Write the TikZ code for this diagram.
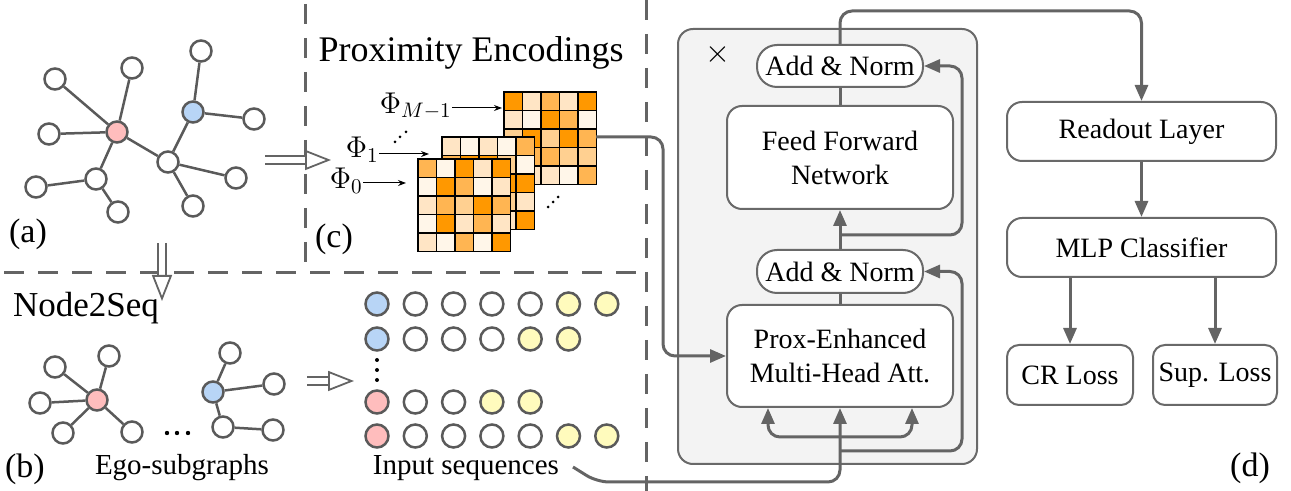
\documentclass[tikz,border=0pt]{standalone}
\usepackage{fix-cm}
\usepackage{fontspec}
\setmainfont{Liberation Serif}
\usetikzlibrary{arrows.meta,calc}

\definecolor{edgegray}{RGB}{90,90,90}
\definecolor{conngray}{RGB}{100,100,100}
\definecolor{boxgray}{RGB}{105,105,105}
\definecolor{panelgray}{RGB}{243,243,243}
\definecolor{pinkn}{RGB}{255,189,189}
\definecolor{bluen}{RGB}{184,213,246}
\definecolor{yellown}{RGB}{255,251,189}
\definecolor{od}{RGB}{255,152,0}
\definecolor{om}{RGB}{255,181,82}
\definecolor{op}{RGB}{255,208,145}
\definecolor{ol}{RGB}{255,229,197}
\definecolor{ow}{RGB}{255,246,233}

\begin{document}
\begin{tikzpicture}[x=0.5pt,y=0.5pt]
      \tikzstyle{every node}+=[inner sep=0pt]
      \tikzstyle{gnode}=[circle, draw=edgegray, line width=1.25pt, fill=white, minimum size=10.5pt]
      \tikzstyle{gedge}=[draw=edgegray, line width=1.25pt]
      \tikzstyle{snode}=[circle, draw=edgegray, line width=1.25pt, minimum size=11.5pt]
      \tikzstyle{blk}=[draw=boxgray, line width=1pt, fill=white, rounded corners=7.5pt, align=center, font=\fontsize{14}{17}\selectfont]
      \tikzstyle{conn}=[draw=conngray, line width=1.5pt, rounded corners=6pt]
      \tikzstyle{arr}=[-{Triangle[length=8pt,width=6.5pt]}]
      \tikzstyle{divider}=[draw=conngray, line width=1.5pt, dash pattern=on 10pt off 7pt]
      \tikzstyle{dblarrow}=[draw=conngray, line width=0.9pt, double=white, double distance=3pt, -{Triangle[open, fill=white, length=13pt, width=10pt, line width=0.9pt]}]
      \tikzstyle{lbl}=[font=\fontsize{17}{20}\selectfont]
      \tikzstyle{sublbl}=[font=\fontsize{14.5}{17}\selectfont, anchor=base]
      \tikzstyle{philbl}=[font=\fontsize{15}{17}\selectfont, anchor=east]
      \tikzstyle{phiarr}=[draw=black, line width=0.5pt, -{Stealth[length=4pt,width=3pt]}]
      \useasboundingbox (0,0) rectangle (1291,-491);
      % panel dividers
      \draw [divider] (305,-4) -- (305,-273);
      \draw [divider] (4,-273) -- (646,-273);
      \draw [divider] (646,0) -- (646,-491);
      % (a) input graph
      \node [gnode, fill=pinkn] (gp) at (117,-132) {};
      \node [gnode, fill=bluen] (gb) at (193,-112) {};
      \node [gnode] (n1) at (55,-79) {};
      \node [gnode] (n2) at (132,-68) {};
      \node [gnode] (n3) at (201,-51) {};
      \node [gnode] (n4) at (49,-134) {};
      \node [gnode] (n5) at (254,-119) {};
      \node [gnode] (gh) at (168,-162) {};
      \node [gnode] (gj) at (96,-179) {};
      \node [gnode] (n6) at (36,-187) {};
      \node [gnode] (n7) at (236,-178) {};
      \node [gnode] (n8) at (118,-212) {};
      \node [gnode] (n9) at (193,-206) {};
      \foreach \a/\b in {gp/n1, gp/n2, gp/n4, gp/gj, gp/gh, gb/n3, gb/n5, gb/gh, gh/n7, gh/n9, gj/n6, gj/n8}
        \draw [gedge] (\a) -- (\b);
      \node [lbl, anchor=base] (laba) at (28,-243) {(a)};
      % double arrows between panels
      \coordinate (ac1) at (265,-160);
      \coordinate (ac2) at (331,-160);
      \coordinate (ab1) at (162,-243);
      \coordinate (ab2) at (162,-301);
      \coordinate (bs1) at (307,-381);
      \coordinate (bs2) at (354,-381);
      \draw [dblarrow] (ac1) -- (ac2);
      \draw [dblarrow] (ab1) -- (ab2);
      \draw [dblarrow] (bs1) -- (bs2);
      % (c) proximity encodings
      \node [font=\fontsize{18}{21}\selectfont, anchor=base] (petitle) at (471,-62) {Proximity Encodings};
      \foreach \rowcols [count=\r] in {{od,ol,om,ol,od},{ol,ow,od,om,ow},{op,od,op,od,om},{od,om,om,op,op},{od,ol,ol,ow,om}}
        \foreach \c [count=\k] in \rowcols
          \filldraw [draw=black, line width=0.6pt, fill=\c] ({504+(\k-1)*18.5},{-92-(\r-1)*18.5}) rectangle ++(18.5,-18.5);
      \foreach \rowcols [count=\r] in {{ol,ow,ol,ow,om},{om,od,od,op,ow},{ol,om,op,od,od},{ol,op,om,op,ol},{ow,om,op,ol,od}}
        \foreach \c [count=\k] in \rowcols
          \filldraw [draw=black, line width=0.6pt, fill=\c] ({442+(\k-1)*18.5},{-137-(\r-1)*18.5}) rectangle ++(18.5,-18.5);
      \foreach \rowcols [count=\r] in {{om,ow,od,ol,od},{ow,od,om,ow,ol},{ol,om,op,od,om},{ow,od,ol,om,ol},{ol,ow,om,ow,od}}
        \foreach \c [count=\k] in \rowcols
          \filldraw [draw=black, line width=0.6pt, fill=\c] ({418+(\k-1)*18.5},{-159-(\r-1)*18.5}) rectangle ++(18.5,-18.5);
      \coordinate (mback) at (596,-137);
      \coordinate (tipM) at (502,-108);
      \coordinate (tip1) at (429,-154);
      \coordinate (tip0) at (406,-183);
      \node [philbl] (phiM) at (452,-106) {$\Phi_{M-1}$};
      \node [philbl] (phi1) at (379,-150) {$\Phi_1$};
      \node [philbl] (phi0) at (363,-181) {$\Phi_0$};
      \draw [phiarr] (phiM.east |- tipM) -- (tipM);
      \draw [phiarr] (phi1.east |- tip1) -- (tip1);
      \draw [phiarr] (phi0.east |- tip0) -- (tip0);
      \foreach \px/\py in {395/142, 400/137, 406/132, 548/207, 553/202, 558/197}
        \fill [black] (\px,-\py) circle (1.5);
      \node [lbl, anchor=base] (labc) at (334,-248) {(c)};
      % (b) ego-subgraphs
      \node [font=\fontsize{17.5}{20}\selectfont, anchor=base] (n2s) at (86,-317) {Node2Seq};
      \node [gnode, fill=pinkn] (ep) at (97,-400) {};
      \node [gnode] (e1) at (55,-367) {};
      \node [gnode] (e2) at (109,-356) {};
      \node [gnode] (e3) at (40,-403) {};
      \node [gnode] (e4) at (63,-433) {};
      \node [gnode] (e5) at (132,-432) {};
      \node [gnode, fill=bluen] (eb) at (213,-392) {};
      \node [gnode] (f1) at (230,-353) {};
      \node [gnode] (f2) at (274,-384) {};
      \node [gnode] (f3) at (223,-427) {};
      \node [gnode] (f4) at (273,-430) {};
      \foreach \a/\b in {ep/e1, ep/e2, ep/e3, ep/e4, ep/e5, eb/f1, eb/f2, eb/f3, f3/f4}
        \draw [gedge] (\a) -- (\b);
      \foreach \px in {167,177,188}
        \fill [black] (\px,-433) circle (2.2);
      \node [lbl, anchor=base] (labb) at (25,-478) {(b)};
      \node [sublbl] (egolabel) at (182,-475) {Ego-subgraphs};
      % input sequences
      \foreach \sy/\rowcols [count=\r] in {304/{bluen,white,white,white,white,yellown,yellown}, 339/{bluen,white,white,white,yellown,yellown}, 402/{pinkn,white,white,yellown,yellown}, 436/{pinkn,white,white,white,white,yellown,yellown}}
        \foreach \c [count=\k] in \rowcols
          \node [snode, fill=\c] (s\r\k) at ({377+(\k-1)*38.3},-\sy) {};
      \foreach \py in {360,370,380}
        \fill [black] (377,-\py) circle (2);
      \node [sublbl] (seqlabel) at (466,-475) {Input sequences};
      % (d) transformer block
      \node [draw=boxgray, line width=1pt, fill=panelgray, rounded corners=7.5pt, minimum width=149.5pt, minimum height=217.5pt] (block) at (827.5,-246.5) {};
      \node [font=\fontsize{16}{18}\selectfont] (times) at (718,-55) {$\times$};
      \node [blk, rounded corners=10pt, minimum width=83pt, minimum height=21pt] (addtop) at (840,-66) {Add \& Norm};
      \node [blk, minimum width=113pt, minimum height=51.5pt] (ffn) at (840,-157.5) {Feed Forward\\Network};
      \node [blk, rounded corners=10pt, minimum width=83pt, minimum height=21.5pt] (addbot) at (840,-271.5) {Add \& Norm};
      \node [blk, minimum width=113pt, minimum height=51pt] (att) at (840,-356) {Prox-Enhanced\\Multi-Head Att.};
      \node [blk, minimum width=134.5pt, minimum height=29.5pt] (readout) at (1141.5,-131.5) {Readout Layer};
      \node [blk, minimum width=134.5pt, minimum height=29.5pt] (mlp) at (1141.5,-247.5) {MLP Classifier};
      \node [blk, rounded corners=6pt, minimum width=63pt, minimum height=30pt] (crloss) at (1070,-375) {CR Loss};
      \node [blk, rounded corners=6pt, minimum width=62pt, minimum height=30pt] (suploss) at (1215,-375) {Sup. Loss};
      \node [lbl, anchor=base] (labd) at (1250,-477) {(d)};
      \coordinate (rail) at (962,0);
      \coordinate (topturn) at (840,-11);
      \coordinate (res1) at (840,-235);
      \coordinate (res2) at (840,-451);
      \coordinate (split) at (840,-437);
      \coordinate (inp) at (573,-467);
      \coordinate (bend) at (597,-482);
      % connectors
      \draw [conn, arr] (mback) -- (663,-137) |- (att.west);
      \draw [conn, arr] (inp) -- (bend) -| (att.south);
      \draw [conn, arr] (split) -| ([xshift=-36pt]att.south);
      \draw [conn, arr] (split) -| ([xshift=36pt]att.south);
      \draw [conn] (att.north) -- (addbot.south);
      \draw [conn, arr] (addbot.north) -- (ffn.south);
      \draw [conn] (ffn.north) -- (addtop.south);
      \draw [conn, arr] (res1) -| (rail |- addtop.east) -- (addtop.east);
      \draw [conn, arr] (res2) -| (rail |- addbot.east) -- (addbot.east);
      \draw [conn, arr] (addtop.north) -- (topturn) -| (readout.north);
      \draw [conn, arr] (readout.south) -- (mlp.north);
      \draw [conn, arr] (mlp.south -| crloss.north) -- (crloss.north);
      \draw [conn, arr] (mlp.south -| suploss.north) -- (suploss.north);
\end{tikzpicture}
\end{document}
